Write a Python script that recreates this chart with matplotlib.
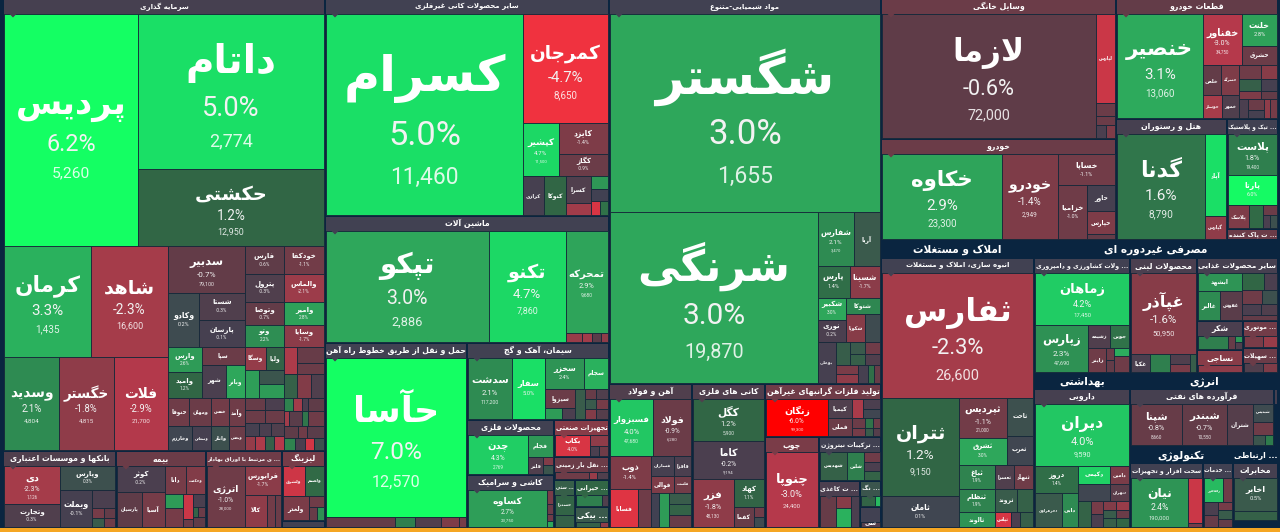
import numpy as np
import matplotlib
matplotlib.use("Agg")
import matplotlib.pyplot as plt
from matplotlib.colors import to_rgb
from matplotlib.font_manager import FontProperties
from matplotlib.patches import Polygon, Rectangle
from matplotlib.textpath import TextPath

# one group per sector: names, change %, price (0 = not shown), area, split tree
# tree: H = side by side, V = stacked, "." = next cell
s01_title, s01_chg, s01_area = "سرمایه گذاری", -0.1, 145222
s01_n = ["پردیس", "داتام", "حکشتی", "کرمان", "شاهد", "وسدید", "خگستر", "فلات", "سدبیر", "وکادو", "شستا", "پارسان",
         "فارس", "خودکفا", "پترول", "والماس", "وتوصا", "وامیر", "وتو", "وسایا", "وارس", "وامید", "سپا", "شهر", "وبانر",
         "وسگا", "ولیا", "", "", "", "", "", "", "", "", "", "خنوفا", "ومهان", "خمس", "وآمد", "وخارزم", "وسعادن", "وانار", "وپخش"]
s01_c = [6.2, 5.0, 1.2, 3.3, -2.3, 2.1, -1.8, -2.9, -0.7, 0.2, -0.3, -0.1, -0.6, -1.1, -0.3, -2.1, -0.7, 2.8, 2.2, -1.7,
         2.6, 1.2, -0.9, -0.2, 3.0, -1.9, 1.0, 2.7, 0.4, 2.6, -2.6, -0.8, -0.9, 0.9, -1.5, -0.3, -1.0, -0.9, -1.1, -1.0,
         0.1, -0.1, 0.3, -0.9, -0.8, -0.2, -0.9, -0.9, -0.1, -0.2, -0.3, -1.9, -2.6, 0.8, -3.0,
         1.9, -2.2, -0.2, -0.6, -2.2, -0.5, 1.6, -1.0, -0.6, -1.0, -0.5, 1.9, -0.2, -3.8, 0.3]
s01_p = [5260, 2774, 12950, 1435, 16600, 4804, 4815, 21700, 79100]
s01_a = [30856, 28675, 14245, 9460, 8470, 5115, 5022, 5022, 3496, 1674, 1215, 1215, 1066, 1066, 1106, 1106, 908, 908, 869, 869,
         825, 858, 774, 768, 608, 483, 414, 392, 350, 350, 351, 432, 297, 299, 322, 299, 588, 616, 476, 448, 576, 456, 408, 384,
         240, 228, 260, 247, 182, 156, 169, 140, 140, 126, 140,
         117, 117, 78, 208, 75, 195, 90, 240, 168, 108, 204, 132, 120, 108, 120]
s01_t = "V(H(.V(..))H(V(H(..)H(...))V(H(V(.H(.V(..)))V(H(..)H(..)H(..)H(..)))H(V(..)V(.H(..))V(H(..)H(.V(..)))V(H(.V(..))H(...)))H(V(H(....)H(....))H(V(H(..)H(..)H(...)H(....))V(H(....)H(....)H(...)H(....)))))))"

s02_title, s02_chg, s02_area = "بانکها و موسسات اعتباری", -0.3, 8701
s02_n = ["دی", "وتجارت", "وپارس", "وبملت"]
s02_c = [-2.3, -0.3, 0.3, -0.1, -0.2, -1.2, -0.7, 0.6, -1.0]
s02_p = [1126]
s02_a = [1870, 1080, 1150, 1040, 350, 100, 100, 90, 80]
s02_t = "H(V(..)V(.H(.V(.H(..)H(..)))))"

s03_title, s03_chg, s03_area = "بیمه", -0.9, 6930
s03_n = ["کوثر", "پارسیان", "آسیا", "دانا", "وحکمت"]
s03_c = [-0.2, -0.6, -1.2, -1.2, -1.5, 2.6, -1.2, -3.6, -0.9, -0.2, 1.0, -0.9, -0.6]
s03_a = [1340, 940, 880, 660, 580, 280, 380, 250, 80, 170, 60, 70, 130]
s03_t = "H(V(.H(..))V(H(..)H(V(..)V(..)V(.H(..).))))"

s04_title, s04_chg, s04_area = "... ی مرتبط با اوراق بهادار", -1.0, 5852
s04_n = ["اترژی", "فرابورس", "کالا"]
s04_c = [-1.0, -1.7, -1.8, -1.1, -0.9]
s04_p = [28000]
s04_a = [2730, 1260, 840, 300, 240]
s04_t = "H(.V(.H(...)))"

s05_title, s05_chg, s05_area = "لیزینگ", -1.2, 3010
s05_n = ["ولشرق", "ولصنم", "ولغدر"]
s05_c = [-3.7, 1.3, -1.3, -1.0, -0.8, 2.2]
s05_a = [720, 640, 660, 180, 120, 100]
s05_t = "V(H(..)H(.V(.H(..))))"

s06_title, s06_chg, s06_area = "", 0.0, 301
s06_n, s06_c, s06_p, s06_a, s06_t = [], [], [], [], ""

s07_title, s07_chg, s07_area = "سایر محصولات کانی غیرفلزی", 0.0, 61344
s07_n = ["کسرام", "کمرجان", "کپشیر", "کایزد", "کگاز", "کرازی", "کنوکا", "کسرا"]
s07_c = [5.0, -4.7, 4.7, -1.4, -0.9, -0.1, 1.2, -0.3, -2.2, 2.5, 0.0, -4.0, 1.5]
s07_p = [11460, 8650, 11500]
s07_a = [38994, 9180, 1872, 1470, 1078, 819, 819, 675, 300, 221, 187, 126, 112]
s07_t = "H(.V(.H(.V(..))H(..V(..)V(..H(..)))))"

s08_title, s08_chg, s08_area = "ماشین آلات", 0.0, 36068
s08_n = ["تپکو", "تکنو", "تمحرکه"]
s08_c = [3.0, 4.7, 2.9, -2.0, -2.2, -0.5, -1.8]
s08_p = [2886, 7860, 9680]
s08_a = [18032, 8512, 4326, 144, 90, 81, 63]
s08_t = "H(..V(.H(....)))"

s09_title, s09_chg, s09_area = "حمل و نقل از طریق خطوط راه آهن", 0.0, 26270
s09_n = ["حآسا"]
s09_c = [7.0, -0.7, 1.8, -0.3, -1.4, -1.2]
s09_p = [12570]
s09_a = [22218, 680, 200, 250, 180, 70]
s09_t = "V(.H(.....))"

s10_title, s10_chg, s10_area = "سیمان، آهک و گچ", 0.0, 10934
s10_n = ["سدشت", "سفار", "سخزر", "سجام", "سیزوا"]
s10_c = [2.1, 5.0, 2.4, 3.3, -0.9, 2.6, -0.2, 0.6, -0.8, -0.3, 0.5, -1.2, -1.5, -0.4]
s10_p = [117200]
s10_a = [2623, 1952, 1178, 713, 570, 187, 143, 270, 115, 115, 115, 115, 115, 115]
s10_t = "H(..V(H(..)H(V(.H(..)).V(H(..)H(..)H(..)))))"

s11_title, s11_chg, s11_area = "محصولات فلزی", 0.0, 4785
s11_n = ["چدن", "فجام", "فلنر"]
s11_c = [4.3, 2.5, -0.3, -1.5, 0.4]
s11_p = [2769]
s11_a = [2460, 575, 270, 90, 90]
s11_t = "H(.V(.H(.V(..))))"

s12_title, s12_chg, s12_area = "کاشی و سرامیک", 0.0, 4611
s12_n = ["کساوه"]
s12_c = [2.7, -1.3, -0.9, -1.0, 3.0]
s12_p = [23750]
s12_a = [3002, 90, 60, 42, 36]
s12_t = "H(.V(....))"

s13_title, s13_chg, s13_area = "تجهیزات صنعتی", -1.6, 2035
s13_n = ["بکاب"]
s13_c = [-4.0, -1.8, -0.2, -1.0]
s13_a = [748, 216, 90, 90]
s13_t = "H(.V(.H(..)))"

s14_title, s14_chg, s14_area = "... نقل بار زمینی", -0.9, 1265
s14_n = []
s14_c = [-1.0, -2.0, -0.3]
s14_a = [297, 72, 99]
s14_t = "H(...)"

s15_title, s15_chg, s15_area = "... ستی", 0.8, 1008
s15_n = ["خسدرا"]
s15_c = [1.1, 0.9]
s15_a = [440, 260]
s15_t = "V(..)"

s16_title, s16_chg, s16_area = "... خیرانی", 1.2, 918
s16_n = []
s16_c = [1.8, -0.3]
s16_a = [264, 60]
s16_t = "H(..)"

s17_title, s17_chg, s17_area = "... بیکی", 0.5, 714
s17_n = []
s17_c = [0.9, -1.8]
s17_a = [184, 64]
s17_t = "H(..)"

s18_title, s18_chg, s18_area = "مواد شیمیایی-متنوع", 0.0, 104448
s18_n = ["شگستر", "شرنگی", "شفارس", "آریا", "پارس", "شسینا", "شکبیر", "نوری", "شتوکا", "شکوپا", "", "بوعلی"]
s18_c = [3.0, 3.0, 2.1, 0.5, 1.4, -1.7, 3.0, -0.2, 2.0, -1.6, 0.2, -0.1, 0.7, 0.5, 0.8, -1.0, -0.3, -1.3, -1.8, -0.1, 1.4, -0.8]
s18_p = [1655, 19870, 3470]
s18_a = [53190, 35260, 1924, 1404, 1023, 961, 616, 616, 560, 540, 405, 748, 322, 192, 176, 180, 165, 200, 200, 160, 120, 100]
s18_t = "V(.H(.V(H(..)H(..)H(V(..)V(.H(..)))H(.V(H(.V(..)V(..))H(V(..)...))))))"

s19_title, s19_chg, s19_area = "آهن و فولاد", -0.3, 11952
s19_n = ["فسبزوار", "فولاد", "ذوب", "فسابا", "", "فسازان", "فافزا", "فوالی", "فلست"]
s19_c = [4.0, -0.9, -1.4, -4.2, -1.0, -0.1, -0.2, -1.4, -1.1, 0.0, 2.6, 0.6, 1.0, -0.8]
s19_p = [47680, 6280]
s19_a = [2552, 2204, 1394, 1064, 494, 480, 340, 432, 306, 306, 340, 242, 242, 264]
s19_t = "V(H(..)H(V(.H(..))V(H(..)H(..)H(..V(...)))))"

s20_title, s20_chg, s20_area = "کانی های فلزی", -0.3, 10512
s20_n = ["کگل", "کاما", "فزر", "کهاد", "کفما"]
s20_c = [1.2, -0.2, -1.8, 1.1, -0.8, -1.0, 0.2]
s20_p = [5900, 9194, 48130]
s20_a = [2982, 2698, 1920, 840, 400, 100, 100]
s20_t = "V(..H(.V(.H(.V(..)))))"

s21_title, s21_chg, s21_area = "تولید فلزات گرانبهای غیرآهن", -1.0, 6148
s21_n = ["زنگان", "کیمیا", "فملی"]
s21_c = [-6.0, -0.3, -0.9, -2.5, -0.2, 0.1, -0.9, -1.2, 1.5, 0.6, -0.9, -0.4]
s21_p = [99300]
s21_a = [2418, 480, 456, 210, 187, 170, 120, 108, 80, 72, 70, 63]
s21_t = "H(.V(..)V(H(.V(..))H(V(..)V(..)V(..))))"

s22_title, s22_chg, s22_area = "چوب", -1.3, 4914
s22_n = ["چنوپا"]
s22_c = [-3.0]
s22_p = [24400]
s22_a = [3952]
s22_t = "."

s23_title, s23_chg, s23_area = "... ترکیبات نیتروژن", 0.0, 2728
s23_n = ["شهدیس", "شلین"]
s23_c = [0.9, 1.8, -1.0, -0.2, 1.0]
s23_a = [780, 510, 165, 150, 135]
s23_t = "H(..V(...))"

s24_title, s24_chg, s24_area = "... ت کاغذی", -0.2, 1927
s24_n = []
s24_c = [-0.8, -1.6, 3.3, -0.2]
s24_a = [512, 182, 266, 256]
s24_t = "H(.V(..).)"

s25_title, s25_chg, s25_area = "... نگ", 0.4, 546
s25_n = []
s25_c = [1.1, 3.6]
s25_a = [180, 60]
s25_t = "H(..)"

s26_title, s26_chg, s26_area = "", 0.0, 441
s26_n = ["سی"]
s26_c = [-0.4]
s26_a = [350]
s26_t = "."

s27_title, s27_chg, s27_area = "وسایل خانگی", -0.9, 32665
s27_n = ["لازما", "لپارس"]
s27_c = [-0.6, -3.6, -0.9, -0.9, -0.2, -1.4]
s27_p = [72000]
s27_a = [26375, 1710, 247, 171, 130, 117]
s27_t = "H(.V(...H(..)))"

s28_title, s28_chg, s28_area = "خودرو", -0.9, 23735
s28_n = ["خکاوه", "خودرو", "خساپا", "خزامیا", "خاور", "خپارس"]
s28_c = [2.9, -1.4, -1.1, -1.0, -0.1, -1.4, -0.7]
s28_p = [23300, 2949]
s28_a = [10234, 4816, 1792, 1566, 702, 648, 135]
s28_t = "H(..V(.H(.V(...))))"

s29_title, s29_chg, s29_area = "قطعات خودرو", -0.7, 19278
s29_n = ["خنصیر", "خفناور", "خلنت", "خشرق", "خلعن", "خسرگه", "خوساز", "خمهر"]
s29_c = [3.1, -3.0, 2.8, -0.9, -0.7, -1.4, -2.4, -0.3, -1.0, -1.6, 0.8, -0.1, -1.4, -0.7, -0.2, -0.9, -0.1, -1.8, -1.2]
s29_p = [13060, 34750]
s29_a = [8925, 2028, 1155, 665, 540, 540, 437, 391, 286, 208, 264, 192, 176, 128, 170, 170, 130, 130, 130]
s29_t = "H(.V(H(.V(..))H(V(H(..)H(..))V(H(..)H(..)H(..)H(.V(..)H(..))))))"

s30_title, s30_chg, s30_area = "هتل و رستوران", -0.1, 13431
s30_n = ["گدنا", "آپاد", "گپارس"]
s30_c = [1.6, 5.0, -1.8]
s30_p = [8790]
s30_a = [9309, 1764, 483]
s30_t = "H(.V(..))"

s31_title, s31_chg, s31_area = "... تیک و پلاستیک", 0.0, 5610
s31_n = ["پلاست", "پارتا", "پلاسک"]
s31_c = [1.8, 6.0, -1.4, 1.3, -0.9, -0.2, 0.3]
s31_p = [19400]
s31_a = [2016, 1488, 483, 299, 140, 91, 91]
s31_t = "V(..H(..V(.H(..))))"

s32_title, s32_chg, s32_area = "... ت پاک کننده", -0.9, 561
s32_n, s32_c, s32_p, s32_a, s32_t = [], [], [], [], ""

s33_title, s33_chg, s33_area = "انبوه سازی، املاک و مستغلات", 0.0, 41310
s33_n = ["ثفارس", "ثتران", "ثامان", "ثپردیس", "ثشرق", "ثاخت", "ثغرب", "ثباغ", "ثنظام", "ثالوند", "ثعسرا", "ثنهاد", "ثروند", "", "ثپاس"]
s33_c = [-2.3, 1.2, 0.1, -1.1, 3.0, 0.3, 0.1, 1.9, 1.9, 2.4, -0.3, -1.0, 0.6, 0.9, -4.0, -0.2, 0.8]
s33_p = [26600, 9150, 0, 21000]
s33_a = [18900, 7600, 2356, 1886, 1288, 1008, 756, 864, 828, 540, 480, 456, 506, 368, 240, 130, 190]
s33_t = "V(.H(V(..)V(H(V(..)V(..))H(V(...)V(H(..)H(..)H(...))))))"

s34_title, s34_chg, s34_area = "... ولات کشاورزی و دامپروری", 0.0, 11040
s34_n = ["زماهان", "زپارس", "زشیمه", "جوین", "زاینر"]
s34_c = [4.2, 2.3, -0.3, 1.5, -1.0, -0.9, -0.7, 3.2, -1.0]
s34_p = [17450, 47690]
s34_a = [4784, 2444, 483, 437, 408, 96, 96, 112, 224]
s34_t = "V(.H(.V(H(..)H(.V(..)V(..)))))"

s35_title, s35_chg, s35_area = "محصولات لبنی", -0.2, 7705
s35_n = ["غپآذر", "غکبا"]
s35_c = [-1.6, -0.2, 1.8, -0.3, -1.3, 0.7]
s35_p = [50950]
s35_a = [5265, 342, 360, 200, 160, 100]
s35_t = "V(.H(..V(..).))"

s36_title, s36_chg, s36_area = "سایر محصولات غذایی", -0.1, 5103
s36_n = ["ابشهد", "غالبر", "غفوش"]
s36_c = [2.4, 2.1, -0.5, 1.2, -0.2, -1.0, 0.3, -0.2, -0.3, -0.7]
s36_a = [720, 580, 580, 350, 195, 260, 200, 195, 160, 160]
s36_t = "H(V(.H(..))V(H(..)H(..)H(..).))"

s37_title, s37_chg, s37_area = "شکر", -0.2, 1334
s37_n = []
s37_c = [1.8, -0.8, 2.5, -0.3]
s37_a = [480, 112, 56, 56]
s37_t = "H(..V(..))"

s38_title, s38_chg, s38_area = "نساجی", -1.6, 1058
s38_n = []
s38_c = [-1.8]
s38_a = [396]
s38_t = "."

s39_title, s39_chg, s39_area = "... موتوری", -1.1, 945
s39_n = []
s39_c = [-1.3, -2.0]
s39_a = [240, 180]
s39_t = "H(..)"

s40_title, s40_chg, s40_area = "... سهیلات", -0.9, 875
s40_n = []
s40_c = [-0.3, -1.4]
s40_a = [220, 160]
s40_t = "H(..)"

s41_title, s41_chg, s41_area = "دارویی", -0.1, 13344
s41_n = ["دیران", "دروز", "دحزهراوی", "دابی", "دکیمی", "دامین", "", "دتهران"]
s41_c = [4.0, 1.4, 0.5, 2.1, 4.4, -1.3, 0.1, -0.5, 1.0, -1.2, -0.2, -1.5, 0.6, 0.8, -2.0, -0.9, 1.2, -0.3]
s41_p = [9590]
s41_a = [5796, 1134, 910, 560, 558, 342, 527, 323, 330, 150, 150, 110, 110, 110, 110, 110, 110, 110]
s41_t = "V(.H(V(.H(..))V(H(..)H(..)H(.V(..)V(...)V(...)))))"

s42_title, s42_chg, s42_area = "فرآورده های نفتی", -0.1, 8208
s42_n = ["شپنا", "شبندر", "شتران", "شپدیس"]
s42_c = [-0.8, -0.7, -0.4, 0.2, -1.0, 0.4, 1.7]
s42_p = [8660, 10550]
s42_a = [2091, 1845, 1066, 361, 266, 114, 76]
s42_t = "H(...V(..H(..)))"

s43_title, s43_chg, s43_area = "", -0.1, 228
s43_n, s43_c, s43_p, s43_a, s43_t = [], [], [], [], ""

s44_title, s44_chg, s44_area = "سخت افزار و تجهیزات", 0.0, 4745
s44_n = ["نیان"]
s44_c = [2.4, -3.6, -1.2]
s44_p = [190000]
s44_a = [2968, 686, 56]
s44_t = "H(.V(..))"

s45_title, s45_chg, s45_area = "... خدمات", 0.0, 1950
s45_n = ["رافاهور"]
s45_c = [3.6, -1.0, -0.2, -0.8, -1.2, 0.6, -0.7]
s45_a = [396, 198, 150, 150, 100, 100, 100]
s45_t = "V(H(..)H(V(..)V(...)))"

s46_title, s46_chg, s46_area = "مخابرات", -0.1, 2610
s46_n = ["اخابر"]
s46_c = [0.5, 0.9]
s46_p = [0]
s46_a = [1435, 410]
s46_t = "V(..)"

# navy strips with the big white market-group titles
g1_title, g1_area = "املاک و مستغلات", 2754
g2_title, g2_area = "مصرفی غیردوره ای", 4392
g3_title, g3_area = "بهداشتی", 1536
g4_title, g4_area = "انرژی", 2368
g5_title, g5_area = "تکنولوژی", 1751
g6_title, g6_area = "... ارتباطی", 765
blank_area = 315

top_tree = ("H(V(.H(...V(..)))"
            "V(..H(.V(.H(V(..)V(..H(.V(..)))))))"
            "V(.H(..V(.H(.V(.H(.V(..)))))))"
            "V(H(V(..)V(.H(.V(..))))"
            "H(V(..)V(V(.H(..V(.H(V(..)V(..)))))"
            "H(V(..)V(V(.H(..))H(V(.H(..))V(...)))))))))")

# colour scale of the map, change % to colour
scale_x = [-6.0, -4.7, -3.0, -2.3, -1.4, -0.6, 0.0, 0.5, 1.2, 2.1, 3.0, 4.0, 5.0, 6.2]
scale_c = ["#ff0000", "#f0323f", "#b5394b", "#a53c4a", "#7e3c48", "#5f3c48", "#414152", "#3a5a4c",
           "#316645", "#2e8b52", "#2ea75b", "#22c763", "#1adf66", "#14ff63"]
NAVY = "#0a2540"
ORANGE = "#f5a623"
LINE = "#16293a"


def pick_color(v):
    rgb = np.array([to_rgb(c) for c in scale_c])
    return tuple(np.interp(v, scale_x, rgb[:, k]) for k in range(3))


# matplotlib does not shape Arabic script, so pick the joined forms by hand
FORMS = {"ا": (0xFE8D, 0xFE8E), "آ": (0xFE81, 0xFE82), "د": (0xFEA9, 0xFEAA), "ذ": (0xFEAB, 0xFEAC),
         "ر": (0xFEAD, 0xFEAE), "ز": (0xFEAF, 0xFEB0), "ژ": (0xFB8A, 0xFB8B), "و": (0xFEED, 0xFEEE),
         "ب": (0xFE8F, 0xFE90, 0xFE91, 0xFE92), "پ": (0xFB56, 0xFB57, 0xFB58, 0xFB59),
         "ت": (0xFE95, 0xFE96, 0xFE97, 0xFE98), "ث": (0xFE99, 0xFE9A, 0xFE9B, 0xFE9C),
         "ج": (0xFE9D, 0xFE9E, 0xFE9F, 0xFEA0), "چ": (0xFB7A, 0xFB7B, 0xFB7C, 0xFB7D),
         "ح": (0xFEA1, 0xFEA2, 0xFEA3, 0xFEA4), "خ": (0xFEA5, 0xFEA6, 0xFEA7, 0xFEA8),
         "س": (0xFEB1, 0xFEB2, 0xFEB3, 0xFEB4), "ش": (0xFEB5, 0xFEB6, 0xFEB7, 0xFEB8),
         "ص": (0xFEB9, 0xFEBA, 0xFEBB, 0xFEBC), "ض": (0xFEBD, 0xFEBE, 0xFEBF, 0xFEC0),
         "ط": (0xFEC1, 0xFEC2, 0xFEC3, 0xFEC4), "ظ": (0xFEC5, 0xFEC6, 0xFEC7, 0xFEC8),
         "ع": (0xFEC9, 0xFECA, 0xFECB, 0xFECC), "غ": (0xFECD, 0xFECE, 0xFECF, 0xFED0),
         "ف": (0xFED1, 0xFED2, 0xFED3, 0xFED4), "ق": (0xFED5, 0xFED6, 0xFED7, 0xFED8),
         "ک": (0xFB8E, 0xFB8F, 0xFB90, 0xFB91), "گ": (0xFB92, 0xFB93, 0xFB94, 0xFB95),
         "ل": (0xFEDD, 0xFEDE, 0xFEDF, 0xFEE0), "م": (0xFEE1, 0xFEE2, 0xFEE3, 0xFEE4),
         "ن": (0xFEE5, 0xFEE6, 0xFEE7, 0xFEE8), "ه": (0xFEE9, 0xFEEA, 0xFEEB, 0xFEEC),
         "ی": (0xFBFC, 0xFBFD, 0xFBFE, 0xFBFF), "ئ": (0xFE89, 0xFE8A, 0xFE8B, 0xFE8C)}


def shape(text):
    out = []
    i = 0
    joined = False
    while i < len(text):
        ch = text[i]
        if ch not in FORMS:
            out.append(ch)
            joined = False
            i += 1
            continue
        # lam + alef is one glyph
        if ch == "ل" and i + 1 < len(text) and text[i + 1] == "ا":
            out.append(chr(0xFEFC if joined else 0xFEFB))
            joined = False
            i += 2
            continue
        f = FORMS[ch]
        nxt = i + 1 < len(text) and text[i + 1] in FORMS
        if len(f) == 2:
            out.append(chr(f[1] if joined else f[0]))
            joined = False
        elif joined and nxt:
            out.append(chr(f[3]))
        elif joined:
            out.append(chr(f[1]))
            joined = False
        elif nxt:
            out.append(chr(f[2]))
            joined = True
        else:
            out.append(chr(f[0]))
        i += 1
    return "".join(reversed(out))


def read_tree(spec):
    chars = iter(spec)
    count = iter(range(100000))

    def node(c):
        if c == ".":
            return next(count)
        kids = []
        next(chars)
        for k in chars:
            if k == ")":
                break
            kids.append(node(k))
        return (c, kids)
    return node(next(chars))


def weight(node, areas):
    if isinstance(node, int):
        return areas[node]
    return sum(weight(k, areas) for k in node[1])


def place(node, x, y, w, h, areas, out):
    if isinstance(node, int):
        out[node] = (x, y, w, h)
        return
    total = weight(node, areas)
    for k in node[1]:
        part = weight(k, areas) / total
        if node[0] == "H":
            place(k, x, y, w * part, h, areas, out)
            x += w * part
        else:
            place(k, x, y, w, h * part, areas, out)
            y += h * part


bold = FontProperties(family="DejaVu Sans", weight="bold")


def fit_size(label, pt, max_w):
    wid = TextPath((0, 0), label, size=pt, prop=bold).get_extents().width / 0.72
    return pt * min(1, max_w / wid) if wid > 0 else pt


def draw_cell(ax, x, y, w, h, name, chg, price):
    ax.add_patch(Rectangle((x, y), w, h, fc=pick_color(chg), ec=LINE, lw=0.6))
    if not name:
        return
    m = min(w, h)
    p = max(0.175 * m, 4.8)
    cx, cy = x + w / 2, y + h / 2
    label = shape(name)
    show_pct = (w >= 28 and h >= 20) or price > 0
    pt = fit_size(label, max(0.25 * m, 7.0) * 0.72, 0.82 * w)
    if not show_pct:
        ax.text(cx, cy, label, color="white", ha="center", va="center", fontproperties=bold, fontsize=pt * 0.85)
        return
    ny, py = (cy - 1.03 * p, cy + 0.63 * p) if price else (cy - 0.85 * p, cy + 0.85 * p)
    ax.text(cx, ny, label, color="white", ha="center", va="center", fontproperties=bold, fontsize=pt)
    ax.text(cx, py, f"{chg:.1f}%", color="#f2f2f2", ha="center", va="center", family="Roboto", fontsize=p * 0.72)
    if price:
        ax.text(cx, cy + 1.83 * p, f"{price:,}", color="white", alpha=0.85, ha="center", va="center",
                family="Roboto", fontsize=p * 0.72 * 0.66)


def draw_sector(ax, rect, title, chg, names, changes, prices, areas, tree):
    x, y, w, h = rect
    x, y, w, h = x + 1, y + 1, w - 2, h - 2
    head = min(13.5, h)
    if y < 2:
        y, h = 0, h + y
    col = pick_color(chg)
    ax.add_patch(Rectangle((x, y), w, head, fc=col, ec="none"))
    if title:
        label = shape(title)
        pt = 5.0 if h > 200 else 5.6
        ax.text(x + w / 2, y + head / 2, label, color="white", ha="center", va="center", fontproperties=bold,
                fontsize=fit_size(label, pt, w - 2), zorder=6)
    if not areas:
        return
    cells = {}
    place(read_tree(tree), x, y + head, w, h - head, areas, cells)
    for i, (cx, cy, cw, ch) in cells.items():
        draw_cell(ax, cx, cy, cw, ch, names[i] if i < len(names) else "", changes[i],
                  prices[i] if i < len(prices) else 0)
    if h - head > 6:
        ax.add_patch(Polygon([(x + 5, y + head), (x + 13, y + head), (x + 9, y + head + 4)], fc=col, ec="none", zorder=5))


def draw_group(ax, rect, title):
    x, y, w, h = rect
    label = shape(title)
    ax.text(x + w / 2, y + h / 2 + 1, label, color="white", ha="center", va="center", fontproperties=bold,
            fontsize=fit_size(label, 7.6, w - 3))


plot_items = [
    (s01_title, s01_chg, s01_area, s01_n, s01_c, s01_p, s01_a, s01_t),
    (s02_title, s02_chg, s02_area, s02_n, s02_c, s02_p, s02_a, s02_t),
    (s03_title, s03_chg, s03_area, s03_n, s03_c, [], s03_a, s03_t),
    (s04_title, s04_chg, s04_area, s04_n, s04_c, s04_p, s04_a, s04_t),
    (s05_title, s05_chg, s05_area, s05_n, s05_c, [], s05_a, s05_t),
    (s06_title, s06_chg, s06_area, s06_n, s06_c, s06_p, s06_a, s06_t),
    (s07_title, s07_chg, s07_area, s07_n, s07_c, s07_p, s07_a, s07_t),
    (s08_title, s08_chg, s08_area, s08_n, s08_c, s08_p, s08_a, s08_t),
    (s09_title, s09_chg, s09_area, s09_n, s09_c, s09_p, s09_a, s09_t),
    (s10_title, s10_chg, s10_area, s10_n, s10_c, s10_p, s10_a, s10_t),
    (s11_title, s11_chg, s11_area, s11_n, s11_c, s11_p, s11_a, s11_t),
    (s12_title, s12_chg, s12_area, s12_n, s12_c, s12_p, s12_a, s12_t),
    (s13_title, s13_chg, s13_area, s13_n, s13_c, [], s13_a, s13_t),
    (s14_title, s14_chg, s14_area, s14_n, s14_c, [], s14_a, s14_t),
    (s15_title, s15_chg, s15_area, s15_n, s15_c, [], s15_a, s15_t),
    (s16_title, s16_chg, s16_area, s16_n, s16_c, [], s16_a, s16_t),
    (s17_title, s17_chg, s17_area, s17_n, s17_c, [], s17_a, s17_t),
    (s18_title, s18_chg, s18_area, s18_n, s18_c, s18_p, s18_a, s18_t),
    (s19_title, s19_chg, s19_area, s19_n, s19_c, s19_p, s19_a, s19_t),
    (s20_title, s20_chg, s20_area, s20_n, s20_c, s20_p, s20_a, s20_t),
    (s21_title, s21_chg, s21_area, s21_n, s21_c, s21_p, s21_a, s21_t),
    (s22_title, s22_chg, s22_area, s22_n, s22_c, s22_p, s22_a, s22_t),
    (s23_title, s23_chg, s23_area, s23_n, s23_c, [], s23_a, s23_t),
    (s24_title, s24_chg, s24_area, s24_n, s24_c, [], s24_a, s24_t),
    (s25_title, s25_chg, s25_area, s25_n, s25_c, [], s25_a, s25_t),
    (s26_title, s26_chg, s26_area, s26_n, s26_c, [], s26_a, s26_t),
    (s27_title, s27_chg, s27_area, s27_n, s27_c, s27_p, s27_a, s27_t),
    (s28_title, s28_chg, s28_area, s28_n, s28_c, s28_p, s28_a, s28_t),
    (s29_title, s29_chg, s29_area, s29_n, s29_c, s29_p, s29_a, s29_t),
    (s30_title, s30_chg, s30_area, s30_n, s30_c, s30_p, s30_a, s30_t),
    (s31_title, s31_chg, s31_area, s31_n, s31_c, s31_p, s31_a, s31_t),
    (s32_title, s32_chg, s32_area, s32_n, s32_c, s32_p, s32_a, s32_t),
    (g1_title, None, g1_area),
    (s33_title, s33_chg, s33_area, s33_n, s33_c, s33_p, s33_a, s33_t),
    (g2_title, None, g2_area),
    (s34_title, s34_chg, s34_area, s34_n, s34_c, s34_p, s34_a, s34_t),
    (s35_title, s35_chg, s35_area, s35_n, s35_c, s35_p, s35_a, s35_t),
    (s36_title, s36_chg, s36_area, s36_n, s36_c, [], s36_a, s36_t),
    (s37_title, s37_chg, s37_area, s37_n, s37_c, [], s37_a, s37_t),
    (s38_title, s38_chg, s38_area, s38_n, s38_c, [], s38_a, s38_t),
    (s39_title, s39_chg, s39_area, s39_n, s39_c, [], s39_a, s39_t),
    (s40_title, s40_chg, s40_area, s40_n, s40_c, [], s40_a, s40_t),
    (g3_title, None, g3_area),
    (s41_title, s41_chg, s41_area, s41_n, s41_c, s41_p, s41_a, s41_t),
    (g4_title, None, g4_area),
    (s42_title, s42_chg, s42_area, s42_n, s42_c, s42_p, s42_a, s42_t),
    (s43_title, s43_chg, s43_area, s43_n, s43_c, s43_p, s43_a, s43_t),
    (g5_title, None, g5_area),
    (s44_title, s44_chg, s44_area, s44_n, s44_c, s44_p, s44_a, s44_t),
    (s45_title, s45_chg, s45_area, s45_n, s45_c, [], s45_a, s45_t),
    (g6_title, None, g6_area),
    (s46_title, s46_chg, s46_area, s46_n, s46_c, s46_p, s46_a, s46_t),
    ("", None, blank_area),
]

fig = plt.figure(figsize=(12.8, 5.32), dpi=100, facecolor=NAVY)
ax = fig.add_axes([0, 0, 1, 1])
ax.set_xlim(0, 1280)
ax.set_ylim(532, 0)
ax.axis("off")

top_areas = [item[2] for item in plot_items]
rects = {}
place(read_tree(top_tree), 3, 0, 1275, 528, top_areas, rects)
for i, item in enumerate(plot_items):
    if item[1] is None:
        if item[0]:
            draw_group(ax, rects[i], item[0])
    else:
        title, chg, _, names, changes, prices, areas, tree = item
        draw_sector(ax, rects[i], title, chg, names, changes, prices, areas, tree)

ax.add_patch(Rectangle((0, 528), 1280, 4, fc=ORANGE, ec="none", zorder=10))

fig.savefig("out.png", dpi=100, facecolor=NAVY)
